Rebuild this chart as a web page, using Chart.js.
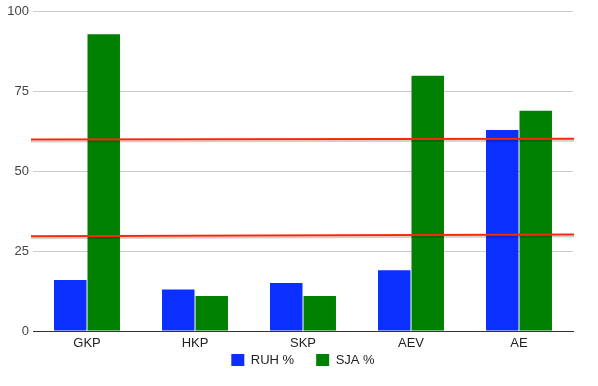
<!DOCTYPE html>
<html>
<head>
<meta charset="utf-8">
<script src="https://cdn.jsdelivr.net/npm/chart.js@4"></script>
<style>
  html, body { margin: 0; padding: 0; background: #fff; }
  #wrap { width: 598px; height: 386px; }
</style>
</head>
<body>
<div id="wrap"><canvas id="chart" width="598" height="386"></canvas></div>
<script>
const categories = ['GKP', 'HKP', 'SKP', 'AEV', 'AE'];
const ruhValues = [16, 13, 15, 19, 63];
const sjaValues = [93, 11, 11, 80, 69];
const yTicks = [0, 25, 50, 75, 100];
// hand drawn red marker lines: [value at left edge, value at right edge]
const markerLines = [[60, 60.2], [29.7, 30.2]];

const markerPlugin = {
  id: 'markers',
  beforeLayout(chart) {
    // legend keeps wide item spacing but only takes a short strip at the bottom
    const l = chart.legend;
    if (!l._short) {
      const fit = l.fit;
      l.fit = function () { fit.call(this); this.height = 34; };
      l._short = true;
    }
  },
  afterLayout(chart) {
    const l = chart.legend;
    const dy = l.options.labels.padding - 2;
    l.top -= dy;
    l.bottom -= dy;
  },
  afterDatasetsDraw(chart) {
    const ctx = chart.ctx;
    const area = chart.chartArea;
    const y = chart.scales.y;
    markerLines.forEach(([a, b]) => {
      const y1 = y.getPixelForValue(a);
      const y2 = y.getPixelForValue(b);
      ctx.save();
      ctx.lineWidth = 2;
      ctx.strokeStyle = 'rgba(0,0,0,0.18)';
      ctx.beginPath();
      ctx.moveTo(area.left - 2, y1 + 2);
      ctx.lineTo(area.right + 1, y2 + 2);
      ctx.stroke();
      ctx.strokeStyle = '#f52a08';
      ctx.beginPath();
      ctx.moveTo(area.left - 2, y1);
      ctx.lineTo(area.right + 1, y2);
      ctx.stroke();
      ctx.restore();
    });
  }
};

Chart.defaults.font.family = '"Liberation Sans", Arial, sans-serif';
Chart.defaults.font.size = 13;
Chart.defaults.color = '#222';

new Chart(document.getElementById('chart').getContext('2d'), {
  type: 'bar',
  data: {
    labels: categories,
    datasets: [
      { label: 'RUH %', data: ruhValues, backgroundColor: '#0a2fff' },
      { label: 'SJA %', data: sjaValues, backgroundColor: '#008000' },
    ],
  },
  options: {
    responsive: false,
    animation: false,
    layout: { padding: { top: 7, right: 25, left: 0, bottom: 0 } },
    datasets: { bar: { barPercentage: 0.97, categoryPercentage: 0.62 } },
    plugins: {
      legend: {
        position: 'bottom',
        fullSize: false,
        labels: { boxWidth: 13, boxHeight: 13, padding: 22, color: '#222' },
      },
      tooltip: { enabled: false },
    },
    scales: {
      x: {
        afterFit(axis) { axis.height = 21; },
        grid: { display: false, drawTicks: false },
        border: { color: '#333', width: 1 },
        ticks: { padding: 5, color: '#222' },
      },
      y: {
        min: 0,
        max: 100,
        afterBuildTicks(axis) { axis.ticks = yTicks.map(v => ({ value: v })); },
        afterFit(axis) { axis.width = 33; },
        grid: { color: '#ccc', drawTicks: false },
        border: { display: false },
        ticks: { padding: 4, color: '#444' },
      },
    },
  },
  plugins: [markerPlugin],
});
</script>
</body>
</html>
